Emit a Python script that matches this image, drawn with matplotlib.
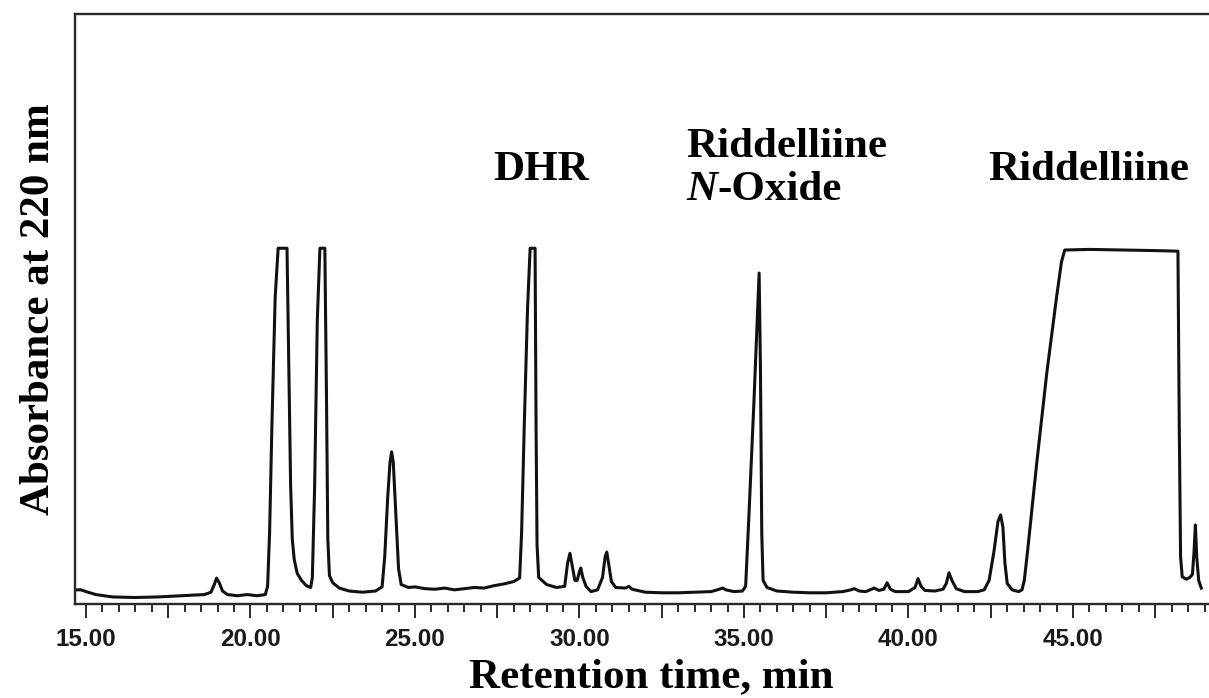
import matplotlib
matplotlib.use("Agg")
import matplotlib.pyplot as plt
from matplotlib.ticker import FixedLocator, MultipleLocator

# ---- data, 10 points per row ----
time_min = [
    14.67, 14.85, 15.0, 15.3, 15.8, 16.5, 17.2, 17.9, 18.6, 18.8,
    18.9, 18.97, 19.05, 19.15, 19.3, 19.6, 19.9, 20.2, 20.45, 20.52,
    20.58, 20.65, 20.75, 20.84, 21.11, 21.16, 21.22, 21.27, 21.33, 21.42,
    21.55, 21.7, 21.83, 21.88, 21.95, 22.03, 22.11, 22.26, 22.31, 22.35,
    22.4, 22.5, 22.7, 23.0, 23.4, 23.8, 24.0, 24.08, 24.17, 24.24,
    24.29, 24.34, 24.42, 24.5, 24.58, 24.8, 25.0, 25.3, 25.6, 25.9,
    26.2, 26.5, 26.8, 27.1, 27.4, 27.7, 28.0, 28.18, 28.24, 28.32,
    28.42, 28.5, 28.65, 28.68, 28.71, 28.76, 29.0, 29.3, 29.55, 29.64,
    29.71, 29.78, 29.86, 29.93, 30.0, 30.04, 30.1, 30.2, 30.35, 30.55,
    30.7, 30.78, 30.83, 30.88, 30.97, 31.1, 31.4, 31.5, 31.6, 32.0,
    32.5, 33.0, 33.5, 34.0, 34.25, 34.35, 34.45, 34.7, 34.95, 35.05,
    35.15, 35.3, 35.46, 35.5, 35.54, 35.58, 35.7, 36.0, 36.5, 37.0,
    37.5, 38.0, 38.25, 38.35, 38.5, 38.7, 38.96, 39.1, 39.25, 39.35,
    39.45, 39.6, 40.0, 40.2, 40.29, 40.38, 40.5, 40.8, 41.05, 41.15,
    41.23, 41.32, 41.45, 41.7, 42.1, 42.3, 42.45, 42.6, 42.72, 42.8,
    42.87, 42.93, 43.0, 43.15, 43.35, 43.45, 43.52, 43.62, 43.9, 44.2,
    44.5, 44.65, 44.75, 45.5, 46.5, 47.5, 48.19, 48.23, 48.27, 48.32,
    48.45, 48.55, 48.63, 48.68, 48.72, 48.76, 48.82, 48.9,
]
absorbance = [
    0.024, 0.024, 0.021, 0.016, 0.012, 0.011, 0.012, 0.014, 0.016, 0.020,
    0.033, 0.044, 0.036, 0.022, 0.016, 0.014, 0.016, 0.014, 0.016, 0.030,
    0.120, 0.300, 0.520, 0.603, 0.603, 0.420, 0.200, 0.110, 0.075, 0.052,
    0.040, 0.031, 0.028, 0.045, 0.200, 0.480, 0.603, 0.603, 0.350, 0.110,
    0.048, 0.036, 0.027, 0.022, 0.020, 0.022, 0.029, 0.080, 0.180, 0.240,
    0.258, 0.240, 0.150, 0.060, 0.033, 0.028, 0.029, 0.026, 0.025, 0.027,
    0.024, 0.026, 0.028, 0.027, 0.031, 0.034, 0.038, 0.044, 0.120, 0.300,
    0.500, 0.603, 0.603, 0.300, 0.100, 0.045, 0.033, 0.028, 0.030, 0.070,
    0.086, 0.065, 0.040, 0.040, 0.055, 0.061, 0.045, 0.030, 0.021, 0.024,
    0.045, 0.080, 0.088, 0.070, 0.038, 0.028, 0.027, 0.030, 0.025, 0.020,
    0.019, 0.019, 0.020, 0.021, 0.025, 0.027, 0.024, 0.021, 0.022, 0.030,
    0.150, 0.340, 0.561, 0.400, 0.120, 0.040, 0.028, 0.022, 0.020, 0.019,
    0.019, 0.021, 0.024, 0.026, 0.022, 0.021, 0.027, 0.023, 0.025, 0.036,
    0.025, 0.021, 0.021, 0.028, 0.043, 0.030, 0.023, 0.022, 0.025, 0.035,
    0.053, 0.040, 0.026, 0.021, 0.021, 0.024, 0.040, 0.090, 0.140, 0.151,
    0.130, 0.070, 0.035, 0.024, 0.021, 0.024, 0.040, 0.090, 0.240, 0.390,
    0.520, 0.580, 0.600, 0.601, 0.600, 0.599, 0.598, 0.300, 0.080, 0.046,
    0.042, 0.045, 0.050, 0.090, 0.134, 0.080, 0.040, 0.027,
]

major_ticks = [15, 17.5, 20, 22.5, 25, 27.5, 30, 32.5, 35, 37.5, 40, 42.5, 45, 47.5]
tick_labels = ["15.00", "", "20.00", "", "25.00", "", "30.00", "", "35.00", "",
               "40.00", "", "45.00", ""]

peak_labels = ["DHR", "Riddelliine", "Riddelliine"]

W, H = 1209, 698
fig = plt.figure(figsize=(W / 100, H / 100), dpi=100)
ax_left, ax_right, ax_top, ax_bottom = 75, 1209, 14, 604
ax = fig.add_axes([ax_left / W, (H - ax_bottom) / H,
                   (ax_right - ax_left) / W, (ax_bottom - ax_top) / H])

ax.plot(time_min, absorbance, color="#111111", lw=2.2, solid_joinstyle="round")

ax.set_xlim(14.666, 15 + (1209 - 86) / 32.9)
ax.set_ylim(0, 1)

for side in ["left", "top", "bottom"]:
    ax.spines[side].set_color("#2a2a2a")
    ax.spines[side].set_linewidth(1.7)
ax.spines["right"].set_visible(False)

ax.xaxis.set_major_locator(FixedLocator(major_ticks))
ax.set_xticklabels(tick_labels)
ax.xaxis.set_minor_locator(MultipleLocator(0.5))
ax.tick_params(axis="x", which="major", length=10, width=1.4, color="#2a2a2a",
               direction="out", pad=7)
ax.tick_params(axis="x", which="minor", length=5.5, width=1.4, color="#2a2a2a",
               direction="out")
ax.set_yticks([])
for lbl in ax.get_xticklabels():
    lbl.set_fontfamily("Liberation Sans")
    lbl.set_fontweight("bold")
    lbl.set_fontsize(17.5)
    lbl.set_color("#1a1a1a")

serif = "Liberation Serif"
ax.set_xlabel("Retention time, min", family=serif, weight="bold", fontsize=31,
              labelpad=0)
ax.xaxis.set_label_coords((651 - ax_left) / (ax_right - ax_left),
                          -(687 - ax_bottom) / (ax_bottom - ax_top))
ax.xaxis.label.set_va("baseline")
ax.set_ylabel("Absorbance at 220 nm", family=serif, weight="bold", fontsize=31,
              labelpad=12)

def fx(px):
    return px / W

def fy(py):
    return 1 - py / H

fs = 31
fig.text(fx(541), fy(180), peak_labels[0], family=serif, weight="bold",
         fontsize=fs, ha="center", va="baseline")
fig.text(fx(686), fy(157), peak_labels[1], family=serif, weight="bold",
         fontsize=fs, ha="left", va="baseline")
fig.text(fx(988), fy(180), peak_labels[2], family=serif, weight="bold",
         fontsize=fs, ha="left", va="baseline")

tN = fig.text(fx(686), fy(200), "N", family=serif, weight="bold", style="italic",
              fontsize=fs, ha="left", va="baseline")
fig.canvas.draw()
bb = tN.get_window_extent(fig.canvas.get_renderer())
fig.text(bb.x1 / W, fy(200), "-Oxide", family=serif, weight="bold",
         fontsize=fs, ha="left", va="baseline")

fig.savefig("out.png", dpi=100)
